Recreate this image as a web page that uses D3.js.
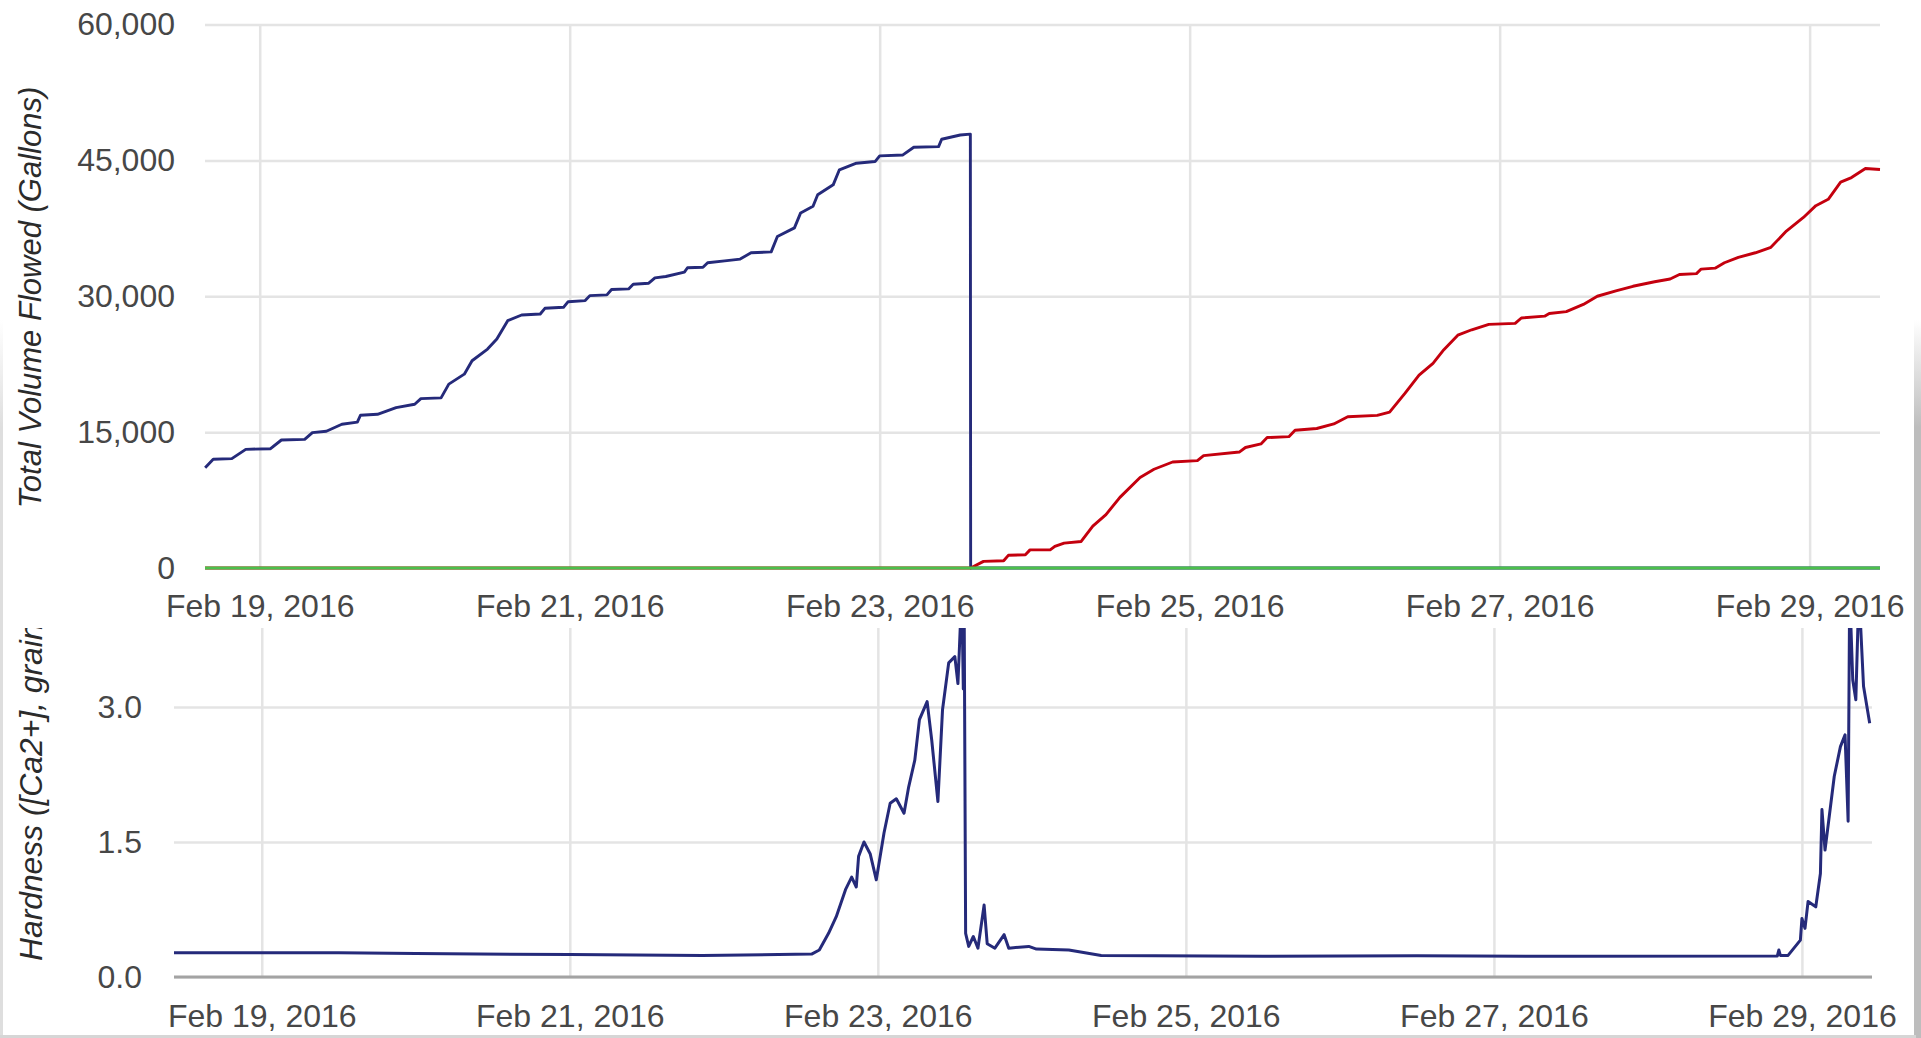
<!DOCTYPE html>
<html>
<head>
<meta charset="utf-8">
<script src="https://cdn.jsdelivr.net/npm/d3@7"></script>
<style>
  html, body { margin: 0; padding: 0; background: #fff; }
  svg { display: block; }
  text { font-family: "Liberation Sans", Arial, sans-serif; }
</style>
</head>
<body>
<div id="chart"></div>
<script>
// times are fractional days of February 2016 (18.5 = Feb 18, 12:00 UTC)
const xTickDays = [19, 21, 23, 25, 27, 29];
const volumeTicks = [0, 15000, 30000, 45000, 60000];
const hardnessTicks = [0, 1.5, 3.0];

// first tank (blue)
const tankADays = [18.648, 18.70, 18.82, 18.91, 19.07, 19.14, 19.29, 19.34, 19.43, 19.53,
  19.63, 19.65, 19.76, 19.88, 20.00, 20.04, 20.17, 20.22, 20.32, 20.37,
  20.47, 20.53, 20.60, 20.69, 20.81, 20.84, 20.96, 20.99, 21.10, 21.13,
  21.24, 21.27, 21.38, 21.41, 21.51, 21.55, 21.62, 21.74, 21.76, 21.86,
  21.89, 22.00, 22.10, 22.17, 22.30, 22.34, 22.45, 22.49, 22.57, 22.60,
  22.70, 22.74, 22.85, 22.97, 23.00, 23.15, 23.22, 23.38, 23.40, 23.52,
  23.585, 23.587, 29.454];
const tankAVolume = [11070, 12000, 12070, 13100, 13170, 14130, 14200, 14950, 15100, 15870,
  16100, 16860, 16970, 17700, 18080, 18700, 18780, 20300, 21400, 22880,
  24170, 25280, 27300, 27930, 28040, 28670, 28780, 29400, 29520, 30070,
  30150, 30740, 30810, 31330, 31440, 32030, 32180, 32660, 33150, 33200,
  33700, 33900, 34100, 34800, 34900, 36600, 37550, 39200, 39930, 41200,
  42300, 43960, 44690, 44870, 45500, 45600, 46450, 46520, 47330, 47800,
  47900, 0, 0];

// second tank (red)
const tankBDays = [18.647, 23.587, 23.67, 23.80, 23.83, 23.94, 23.97, 24.10, 24.13, 24.19,
  24.30, 24.375, 24.46, 24.55, 24.68, 24.77, 24.89, 25.05, 25.09, 25.32,
  25.36, 25.46, 25.50, 25.64, 25.68, 25.82, 25.93, 26.02, 26.21, 26.29,
  26.39, 26.48, 26.57, 26.64, 26.73, 26.82, 26.93, 27.10, 27.14, 27.29,
  27.32, 27.43, 27.54, 27.63, 27.75, 27.86, 28.00, 28.10, 28.16, 28.27,
  28.30, 28.39, 28.45, 28.54, 28.65, 28.75, 28.85, 28.96, 29.04, 29.12,
  29.20, 29.27, 29.36, 29.454];
const tankBVolume = [0, 0, 730, 800, 1400, 1470, 2000, 2000, 2380, 2750,
  2930, 4630, 5900, 7800, 10000, 10900, 11700, 11850, 12400, 12800,
  13300, 13700, 14400, 14500, 15200, 15400, 15900, 16700, 16850, 17200,
  19300, 21300, 22600, 24100, 25700, 26300, 26900, 27000, 27600, 27800,
  28100, 28300, 29100, 30000, 30600, 31100, 31600, 31900, 32400, 32500,
  33000, 33100, 33700, 34300, 34800, 35400, 37200, 38700, 40000, 40700,
  42600, 43100, 44100, 44000];

// third tank (green), idle
const tankCDays = [18.647, 29.454];
const tankCVolume = [0, 0];

// hardness
const hardnessDays = [18.43, 19.5, 20.0, 21.0, 21.86, 22.57, 22.62, 22.68, 22.73, 22.79,
  22.83, 22.86, 22.875, 22.91, 22.95, 22.99, 23.04, 23.08, 23.12, 23.17,
  23.20, 23.24, 23.27, 23.32, 23.35, 23.39, 23.42, 23.46, 23.50, 23.52,
  23.53, 23.545, 23.555, 23.56, 23.57, 23.59, 23.62, 23.65, 23.69, 23.71,
  23.76, 23.82, 23.85, 23.98, 24.03, 24.24, 24.45, 25.5, 26.5, 27.5,
  28.84, 28.85, 28.86, 28.91, 28.99, 29.00, 29.02, 29.04, 29.09, 29.12,
  29.13, 29.15, 29.18, 29.21, 29.25, 29.28, 29.30, 29.31, 29.33, 29.35,
  29.37, 29.40, 29.44];
const hardness = [0.27, 0.27, 0.26, 0.25, 0.24, 0.255, 0.30, 0.485, 0.67, 0.97,
  1.11, 1.00, 1.34, 1.50, 1.37, 1.08, 1.60, 1.93, 1.98, 1.82,
  2.11, 2.41, 2.86, 3.06, 2.63, 1.95, 2.97, 3.49, 3.56, 3.26,
  3.67, 4.3, 3.2, 4.3, 0.485, 0.34, 0.45, 0.32, 0.80, 0.37,
  0.32, 0.47, 0.32, 0.34, 0.31, 0.30, 0.24, 0.23, 0.235, 0.23,
  0.233, 0.30, 0.24, 0.24, 0.41, 0.65, 0.54, 0.84, 0.78, 1.15,
  1.86, 1.41, 1.82, 2.23, 2.56, 2.69, 1.73, 4.3, 3.3, 3.08,
  4.3, 3.23, 2.82];

const toDate = d => new Date(Date.UTC(2016, 1, 1) + (d - 1) * 864e5);
const zip = (a, b) => a.map((d, i) => [toDate(d), b[i]]);

const W = 1921, H = 1038;
const svg = d3.select("#chart").append("svg")
  .attr("width", W)
  .attr("height", H);

const defs = svg.append("defs");
defs.append("clipPath").attr("id", "botClip")
  .append("rect").attr("x", 0).attr("y", 628).attr("width", W).attr("height", H - 628);
const fade = defs.append("linearGradient").attr("id", "fade")
  .attr("x1", 0).attr("y1", 0).attr("x2", 0).attr("y2", 1);
fade.append("stop").attr("offset", "0").attr("stop-opacity", 0).attr("stop-color", "#bdbdbd");
fade.append("stop").attr("offset", "0.15").attr("stop-opacity", 1).attr("stop-color", "#bdbdbd");
fade.append("stop").attr("offset", "1").attr("stop-opacity", 1).attr("stop-color", "#bdbdbd");

// frame of the screenshot
svg.append("rect").attr("x", 0).attr("y", 320).attr("width", 3).attr("height", H - 320)
  .attr("fill", "url(#fade)").attr("opacity", 0.5);
svg.append("rect").attr("x", 1914).attr("y", 320).attr("width", 7).attr("height", H - 320)
  .attr("fill", "url(#fade)");
svg.append("rect").attr("x", 0).attr("y", 1035).attr("width", 1916).attr("height", 3)
  .attr("fill", "#d6d6d6");

const tickColor = "#474747";
const gridColor = "#e4e4e4";

function styleAxis(g, size) {
  g.select(".domain").remove();
  g.selectAll(".tick line").attr("stroke", gridColor).attr("stroke-width", 2.5);
  g.selectAll(".tick text").attr("fill", tickColor).attr("font-size", size);
}

// ---------- top chart: volume ----------
const topL = 205, topR = 1880, topB = 568, topT = 24.5;
const xTop = d3.scaleUtc().domain([toDate(18.647), toDate(29.454)]).range([topL, topR]);
const yTop = d3.scaleLinear().domain([0, 60000]).range([topB, topT]);

const topG = svg.append("g");

topG.append("g")
  .attr("transform", `translate(0,${topB})`)
  .call(d3.axisBottom(xTop)
    .tickValues(xTickDays.map(toDate))
    .tickSize(-(topB - topT))
    .tickPadding(26)
    .tickFormat(d3.utcFormat("%b %-d, %Y")))
  .call(g => styleAxis(g, 32));

topG.append("g")
  .attr("transform", `translate(${topL},0)`)
  .call(d3.axisLeft(yTop)
    .tickValues(volumeTicks)
    .tickSize(-(topR - topL))
    .tickPadding(30)
    .tickFormat(d3.format(",")))
  .call(g => styleAxis(g, 32));

topG.append("text")
  .attr("transform", `translate(41,${(83 + 512) / 2}) rotate(-90)`)
  .attr("text-anchor", "middle")
  .attr("font-size", 31)
  .attr("font-style", "italic")
  .attr("fill", "#2b2b2b")
  .text("Total Volume Flowed (Gallons)");

const lineTop = d3.line().x(d => xTop(d[0])).y(d => yTop(d[1]));
const volSeries = [
  { data: zip(tankADays, tankAVolume), color: "#252a7a" },
  { data: zip(tankBDays, tankBVolume), color: "#c4000e" },
  { data: zip(tankCDays, tankCVolume), color: "#4cc04c" }
];
topG.selectAll(".vol")
  .data(volSeries)
  .join("path")
  .attr("class", "vol")
  .attr("fill", "none")
  .attr("stroke", d => d.color)
  .attr("stroke-width", 2.9)
  .attr("stroke-linejoin", "round")
  .attr("d", d => lineTop(d.data));

// ---------- bottom chart: hardness ----------
const botL = 174, botR = 1872, botB = 977;
const xBot = d3.scaleUtc().domain([toDate(18.43), toDate(29.455)]).range([botL, botR]);
const yBot = d3.scaleLinear().domain([0, 3]).range([botB, 707]);

const botG = svg.append("g").attr("clip-path", "url(#botClip)");

botG.append("g")
  .attr("transform", `translate(0,${botB})`)
  .call(d3.axisBottom(xBot)
    .tickValues(xTickDays.map(toDate))
    .tickSize(-(botB - 600))
    .tickPadding(27)
    .tickFormat(d3.utcFormat("%b %-d, %Y")))
  .call(g => styleAxis(g, 32));

botG.append("g")
  .attr("transform", `translate(${botL},0)`)
  .call(d3.axisLeft(yBot)
    .tickValues(hardnessTicks)
    .tickSize(-(botR - botL))
    .tickPadding(32)
    .tickFormat(d3.format(".1f")))
  .call(g => styleAxis(g, 32));

botG.append("line")
  .attr("x1", botL).attr("x2", botR)
  .attr("y1", botB).attr("y2", botB)
  .attr("stroke", "#a3a3a3")
  .attr("stroke-width", 3);

botG.append("text")
  .attr("transform", `translate(42,961) rotate(-90)`)
  .attr("text-anchor", "start")
  .attr("font-size", 31.8)
  .attr("font-style", "italic")
  .attr("fill", "#2b2b2b")
  .text("Hardness ([Ca2+], grains/gallon)");

const lineBot = d3.line().x(d => xBot(d[0])).y(d => yBot(d[1]));
botG.append("path")
  .datum(zip(hardnessDays, hardness))
  .attr("fill", "none")
  .attr("stroke", "#252a7a")
  .attr("stroke-width", 3)
  .attr("stroke-linejoin", "round")
  .attr("d", lineBot);
</script>
</body>
</html>
